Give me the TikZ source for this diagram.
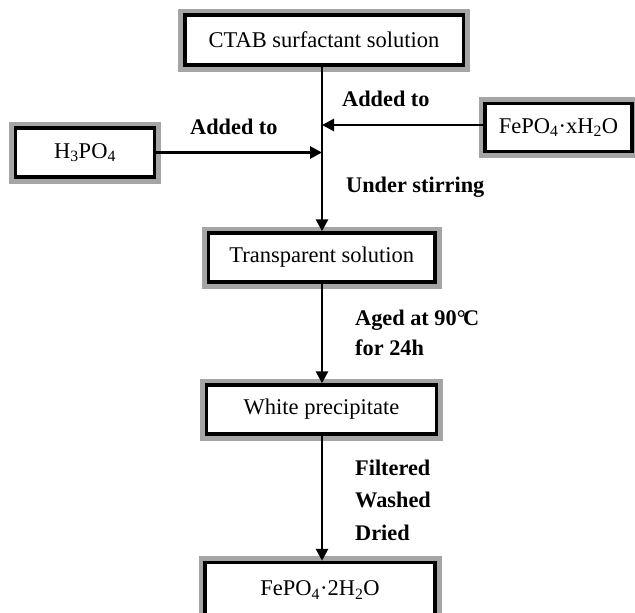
\documentclass[tikz,border=0pt]{standalone}
\usepackage{fontspec}
\setmainfont{Liberation Serif}
\usetikzlibrary{arrows.meta}
\definecolor{framegray}{RGB}{165,165,165}
\begin{document}
\begin{tikzpicture}[x=1pt,y=-1pt,
  stagebox/.style={rectangle, inner sep=0pt, fill=white, draw=black,
    line width=3.5pt, preaction={draw=framegray, line width=13pt},
    font=\fontsize{22.5}{26}\selectfont},
  flow/.style={line width=2.8pt, -{Triangle[length=12pt,width=12pt]}},
  note/.style={anchor=base west, inner sep=0pt,
    font=\fontsize{22.3}{26}\selectfont\bfseries}]
\useasboundingbox (0,0) rectangle (635,613);
\clip (0,0) rectangle (635,613);

% process stages
\node[stagebox, minimum width=278.5pt, minimum height=50pt] (ctab) at (324,40) {CTAB surfactant solution};
\node[stagebox, minimum width=139pt, minimum height=49pt] (acid) at (85,152.5) {H\textsubscript{3}PO\textsubscript{4}};
\node[stagebox, minimum width=147pt, minimum height=48pt] (fex) at (558.5,127.5) {FePO\textsubscript{4}·xH\textsubscript{2}O};
\node[stagebox, minimum width=226.5pt, minimum height=49pt] (trans) at (321.8,257.5) {Transparent solution};
\node[stagebox, minimum width=230pt, minimum height=49pt] (white) at (321.5,409.5) {White precipitate};
\node[stagebox, minimum width=230pt, minimum height=55pt, text depth=0pt] (final) at (320,590) {\raisebox{3pt}{FePO\textsubscript{4}·2H\textsubscript{2}O}};

% junctions on the main line
\coordinate (jfe) at (322,125);
\coordinate (jacid) at (322,152.5);

% connectors
\draw[flow] (ctab.south -| jfe) -- (trans.north -| jfe);
\draw[flow] (fex.west |- jfe) -- (jfe);
\draw[flow] (acid.east) -- (jacid);
\draw[flow] (trans.south -| jfe) -- (white.north -| jfe);
\draw[flow] (white.south -| jfe) -- (final.north -| jfe);

% step annotations
\node[note] (addL) at (190,134) {Added to};
\node[note] (addR) at (342,106) {Added to};
\node[note] (stir) at (346,192) {Under stirring};
\node[note] (aged1) at (355,325) {Aged at 90°\kern-0.12em C};
\node[note] (aged2) at (355,355) {for 24h};
\node[note] (filt) at (355,475) {Filtered};
\node[note] (wash) at (355,507) {Washed};
\node[note] (dry) at (355,540) {Dried};
\end{tikzpicture}
\end{document}
